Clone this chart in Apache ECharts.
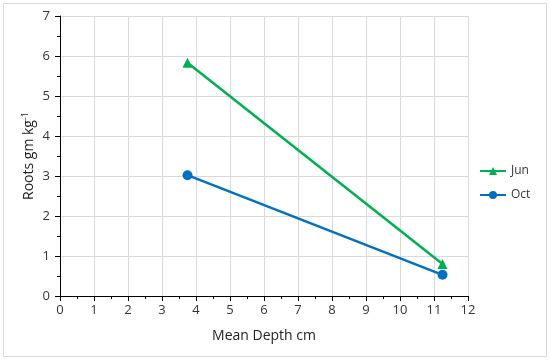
<!DOCTYPE html>
<html><head><meta charset="utf-8">
<script src="https://cdn.jsdelivr.net/npm/echarts@6/dist/echarts.min.js"></script>
<style>html,body{margin:0;padding:0;background:#fff}#c{width:550px;height:361px}</style>
</head><body><div id="c"></div>
<script>
const depthJun = [3.75, 11.25];
const rootsJun = [5.83, 0.8];
const depthOct = [3.75, 11.25];
const rootsOct = [3.02, 0.53];
const seriesNames = ['Jun', 'Oct'];

const chart = echarts.init(document.getElementById('c'));
const font = 'Open Sans';
chart.setOption({
  animation: false,
  textStyle: {fontFamily: font},
  graphic: [{type: 'rect', shape: {x: 3.5, y: 3.5, width: 543, height: 353}, style: {fill: 'none', stroke: '#d9d9d9', lineWidth: 1}}],
  grid: {left: 60, right: 82, top: 16, bottom: 65},
  legend: {
    orient: 'vertical', left: 474, top: 160, itemGap: 12, itemWidth: 26, itemHeight: 10,
    textStyle: {fontSize: 12, color: '#333', fontFamily: font},
    data: seriesNames
  },
  xAxis: {
    type: 'value', min: 0, max: 12, interval: 1,
    name: 'Mean Depth cm', nameLocation: 'middle', nameGap: 33,
    nameTextStyle: {fontSize: 14, color: '#222'},
    axisLine: {show: true, lineStyle: {color: '#000', width: 1}},
    axisTick: {show: true, length: 5, inside: false, lineStyle: {color: '#000'}},
    minorTick: {show: true, splitNumber: 2, length: 3, lineStyle: {color: '#000'}},
    axisLabel: {fontSize: 13, color: '#333', margin: 8},
    splitLine: {show: true, lineStyle: {color: '#d9d9d9'}}
  },
  yAxis: {
    type: 'value', min: 0, max: 7, interval: 1,
    name: '{n|Roots gm kg}{s|-1}', nameLocation: 'middle', nameGap: 22, nameMoveOverlap: false,
    nameTextStyle: {rich: {n: {fontSize: 14, color: '#222', fontFamily: font}, s: {fontSize: 9, color: '#222', verticalAlign: 'top', padding: [0, 0, 8, 0], fontFamily: font}}},
    axisLine: {show: true, lineStyle: {color: '#000', width: 1}},
    axisTick: {show: true, length: 5, inside: false, lineStyle: {color: '#000'}},
    minorTick: {show: true, splitNumber: 2, length: 3, lineStyle: {color: '#000'}},
    axisLabel: {fontSize: 13, color: '#333', margin: 10},
    splitLine: {show: true, lineStyle: {color: '#d9d9d9'}}
  },
  series: [
    {name: seriesNames[0], type: 'line', data: depthJun.map((d, i) => [d, rootsJun[i]]),
      symbol: 'triangle', symbolSize: 10, color: '#00b050', lineStyle: {width: 2.5, color: '#00b050'}, itemStyle: {color: '#00b050'}},
    {name: seriesNames[1], type: 'line', data: depthOct.map((d, i) => [d, rootsOct[i]]),
      symbol: 'circle', symbolSize: 10, color: '#0070c0', lineStyle: {width: 2.5, color: '#0070c0'}, itemStyle: {color: '#0070c0'}}
  ]
});
</script></body></html>
